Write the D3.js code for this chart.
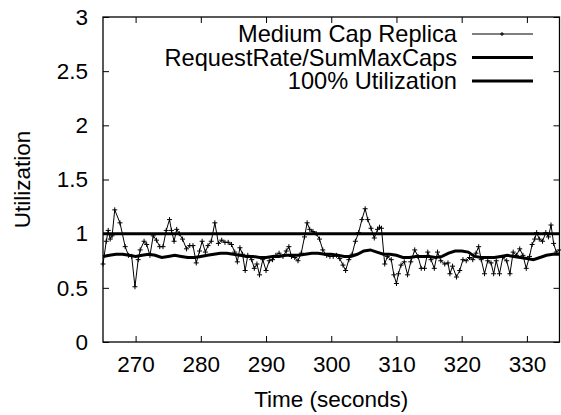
<!DOCTYPE html>
<html>
<head>
<meta charset="utf-8">
<script src="https://cdn.jsdelivr.net/npm/d3@7"></script>
<style>
  body { margin: 0; background: #fff; }
  svg text { font-family: "Liberation Sans", Arial, Helvetica, sans-serif; font-size: 22.5px; fill: #000; }
</style>
</head>
<body>
<script>
// Datos
var tiempoReplica = [265.0, 265.5, 265.8, 266.1, 266.4, 266.8, 267.6, 268.4, 268.9, 269.4, 269.9, 270.4, 270.7, 271.3, 271.7, 272.2, 272.7, 273.2, 273.7, 274.2, 274.7, 275.2, 275.5, 275.9, 276.3, 276.7, 277.2, 277.8, 278.3, 278.8, 279.3, 279.8, 280.2, 280.7, 281.1, 281.6, 282.15, 282.7, 283.2, 283.7, 284.2, 284.7, 285.2, 285.6, 286.0, 286.4, 286.8, 287.2, 287.8, 288.2, 288.6, 289.0, 289.5, 290.0, 290.5, 291.0, 291.5, 292.0, 292.6, 293.1, 293.5, 293.9, 294.4, 294.9, 295.4, 295.9, 296.3, 296.7, 297.2, 297.7, 298.2, 298.7, 299.3, 299.8, 300.3, 300.8, 301.3, 301.8, 302.2, 302.7, 303.2, 303.7, 304.2, 304.7, 305.2, 305.6, 306.1, 306.6, 307.1, 307.4, 307.7, 308.2, 308.6, 309.2, 309.6, 310.0, 310.3, 310.7, 311.2, 311.7, 312.2, 312.8, 313.3, 313.8, 314.3, 314.8, 315.3, 315.8, 316.3, 316.8, 317.4, 317.9, 318.2, 318.6, 319.2, 319.7, 320.2, 320.7, 321.2, 321.7, 322.2, 322.6, 323.0, 323.5, 324.0, 324.5, 324.9, 325.3, 325.8, 326.3, 326.9, 327.4, 327.9, 328.4, 328.9, 329.4, 329.9, 330.4, 330.8, 331.2, 331.5, 331.9, 332.4, 332.9, 333.3, 333.7, 334.1, 334.5, 335.0];
var utilReplica = [0.72, 0.93, 1.03, 0.95, 0.98, 1.22, 1.10, 0.88, 0.80, 0.79, 0.51, 0.76, 0.85, 0.93, 0.90, 0.80, 0.98, 0.94, 0.88, 0.88, 1.03, 1.13, 1.03, 0.93, 1.04, 1.00, 0.95, 0.86, 0.89, 0.89, 0.73, 0.84, 0.93, 0.83, 0.89, 0.93, 1.10, 0.91, 0.94, 0.92, 0.92, 0.90, 0.83, 0.74, 0.87, 0.81, 0.66, 0.80, 0.76, 0.68, 0.72, 0.62, 0.76, 0.66, 0.75, 0.76, 0.80, 0.82, 0.79, 0.84, 0.88, 0.79, 0.78, 0.75, 0.82, 0.97, 1.10, 1.04, 1.02, 1.00, 0.95, 0.85, 0.80, 0.79, 0.79, 0.80, 0.77, 0.71, 0.66, 0.76, 0.81, 0.93, 1.01, 1.13, 1.23, 1.13, 1.05, 0.96, 1.04, 1.06, 1.05, 0.72, 0.79, 0.76, 0.62, 0.54, 0.63, 0.71, 0.74, 0.62, 0.74, 0.85, 0.79, 0.68, 0.68, 0.83, 0.76, 0.68, 0.83, 0.75, 0.72, 0.73, 0.63, 0.70, 0.60, 0.66, 0.76, 0.75, 0.78, 0.76, 0.82, 0.88, 0.76, 0.63, 0.75, 0.73, 0.63, 0.75, 0.63, 0.78, 0.75, 0.63, 0.83, 0.80, 0.86, 0.80, 0.68, 0.79, 0.90, 0.95, 1.01, 0.95, 0.93, 1.01, 0.97, 1.08, 0.91, 0.83, 0.85];

var tiempoPeticiones = [265, 266, 267, 268, 269, 270, 271, 272, 273, 274, 275, 276, 277, 278, 279, 280, 281, 282, 283, 284, 285, 286, 287, 288, 289, 290, 291, 292, 293, 294, 295, 296, 297, 298, 299, 300, 301, 302, 303, 304, 305, 306, 307, 308, 309, 310, 311, 312, 313, 314, 315, 316, 317, 318, 319, 320, 321, 322, 323, 324, 325, 326, 327, 328, 329, 330, 331, 332, 333, 334, 335];
var utilPeticiones = [0.79, 0.80, 0.81, 0.81, 0.80, 0.79, 0.80, 0.81, 0.80, 0.78, 0.79, 0.80, 0.79, 0.78, 0.78, 0.79, 0.80, 0.81, 0.82, 0.82, 0.81, 0.80, 0.79, 0.79, 0.78, 0.78, 0.79, 0.79, 0.80, 0.80, 0.80, 0.81, 0.82, 0.82, 0.81, 0.81, 0.80, 0.79, 0.79, 0.81, 0.84, 0.85, 0.83, 0.81, 0.81, 0.80, 0.78, 0.78, 0.79, 0.79, 0.79, 0.78, 0.79, 0.82, 0.84, 0.84, 0.83, 0.79, 0.78, 0.78, 0.78, 0.79, 0.80, 0.79, 0.78, 0.77, 0.76, 0.78, 0.80, 0.81, 0.81];

var utilCompleta = 1;

var ticksX = [270, 280, 290, 300, 310, 320, 330];
var ticksY = [0, 0.5, 1, 1.5, 2, 2.5, 3];
var nombresSeries = ["Medium Cap Replica", "RequestRate/SumMaxCaps", "100% Utilization"];

var width = 561;
var height = 415;
var margen = { arriba: 17, abajo: 73, izquierda: 103, derecha: 1.5 };

var escalaX = d3.scaleLinear()
    .domain([265, 335])
    .range([margen.izquierda, width - margen.derecha]);

var escalaY = d3.scaleLinear()
    .domain([0, 3])
    .range([height - margen.abajo, margen.arriba]);

var svg = d3.select("body").append("svg")
    .attr("width", width)
    .attr("height", height);

// ejes con ticks hacia dentro (y espejo arriba/derecha)
svg.append("g")
    .attr("transform", "translate(0," + (height - margen.abajo) + ")")
    .call(d3.axisBottom(escalaX).tickValues(ticksX).tickSize(-6).tickPadding(14))
    .call(g => g.select(".domain").remove());
svg.append("g")
    .attr("transform", "translate(0," + margen.arriba + ")")
    .call(d3.axisTop(escalaX).tickValues(ticksX).tickSize(-6).tickFormat(""))
    .call(g => g.select(".domain").remove());
svg.append("g")
    .attr("transform", "translate(" + margen.izquierda + ",0)")
    .call(d3.axisLeft(escalaY).tickValues(ticksY).tickSize(-6).tickPadding(15).tickFormat(d3.format("")))
    .call(g => g.select(".domain").remove());
svg.append("g")
    .attr("transform", "translate(" + (width - margen.derecha) + ",0)")
    .call(d3.axisRight(escalaY).tickValues(ticksY).tickSize(-6).tickFormat(""))
    .call(g => g.select(".domain").remove());

svg.selectAll(".tick line").attr("stroke", "#000").attr("stroke-width", 1);
svg.selectAll(".tick text").style("font-size", "22.5px").attr("fill", "#000");

// marco
svg.append("rect")
    .attr("x", margen.izquierda)
    .attr("y", margen.arriba)
    .attr("width", escalaX(335) - escalaX(265))
    .attr("height", escalaY(0) - escalaY(3))
    .attr("fill", "none")
    .attr("stroke", "#000")
    .attr("stroke-width", 1.3);

// serie fina con puntos
var datosReplica = tiempoReplica.map((t, i) => [t, utilReplica[i]]);
var linea = d3.line().x(d => escalaX(d[0])).y(d => escalaY(d[1]));

svg.append("path")
    .datum(datosReplica)
    .attr("d", linea)
    .attr("fill", "none")
    .attr("stroke", "#000")
    .attr("stroke-width", 1);

svg.selectAll(".punto")
    .data(datosReplica)
    .join("path")
    .attr("class", "punto")
    .attr("transform", d => "translate(" + escalaX(d[0]) + "," + escalaY(d[1]) + ")")
    .attr("d", "M-2.5,0H2.5M0,-2.5V2.5")
    .attr("stroke", "#000")
    .attr("stroke-width", 1);

// serie gruesa
var datosPeticiones = tiempoPeticiones.map((t, i) => [t, utilPeticiones[i]]);
svg.append("path")
    .datum(datosPeticiones)
    .attr("d", linea)
    .attr("fill", "none")
    .attr("stroke", "#000")
    .attr("stroke-width", 3);

// linea del 100%
svg.append("path")
    .datum([[265, utilCompleta], [335, utilCompleta]])
    .attr("d", linea)
    .attr("fill", "none")
    .attr("stroke", "#000")
    .attr("stroke-width", 3);

// leyenda
var filasLeyenda = [34, 57.5, 81];
nombresSeries.forEach(function (nombre, i) {
    svg.append("text")
        .attr("x", 457)
        .attr("y", filasLeyenda[i])
        .attr("dy", "0.35em")
        .attr("text-anchor", "end")
        .style("font-size", "23.6px")
        .text(nombre);
    svg.append("line")
        .attr("x1", 472).attr("x2", 533)
        .attr("y1", filasLeyenda[i]).attr("y2", filasLeyenda[i])
        .attr("stroke", "#000")
        .attr("stroke-width", i == 0 ? 1 : 3);
});
svg.append("path")
    .attr("transform", "translate(502," + filasLeyenda[0] + ")")
    .attr("d", "M-2,0H2M0,-2V2")
    .attr("stroke", "#000");

// titulos de ejes
svg.append("text")
    .attr("x", (escalaX(265) + escalaX(335)) / 2)
    .attr("y", 407)
    .attr("text-anchor", "middle")
    .text("Time (seconds)");

svg.append("text")
    .attr("transform", "translate(22," + ((escalaY(0) + escalaY(3)) / 2) + ") rotate(-90)")
    .attr("dy", "0.35em")
    .attr("text-anchor", "middle")
    .text("Utilization");
</script>
</body>
</html>
